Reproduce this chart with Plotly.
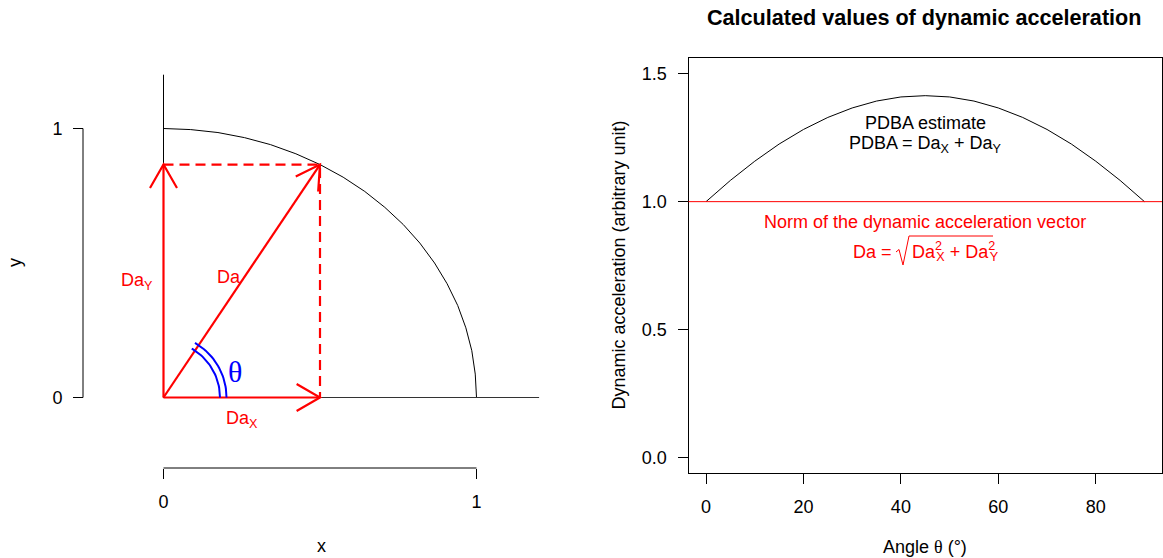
import math
import plotly.graph_objects as go

W, H = 1163, 558

# ---------------- data ----------------
THETA_DEG = 60          # angle of the dynamic acceleration vector
DA_X = 0.5              # x component
DA_Y = 0.866            # y component
AXIS_LEN = 1.2          # length of drawn x / y reference lines

# quarter circle of unit radius
circle_x = [1.000, 0.996, 0.985, 0.966, 0.940, 0.906, 0.866, 0.819, 0.766, 0.707,
            0.643, 0.574, 0.500, 0.423, 0.342, 0.259, 0.174, 0.087, 0.000]
circle_y = [0.000, 0.087, 0.174, 0.259, 0.342, 0.423, 0.500, 0.574, 0.643, 0.707,
            0.766, 0.819, 0.866, 0.906, 0.940, 0.966, 0.985, 0.996, 1.000]

# right panel
angle_deg = [0, 5, 10, 15, 20, 25, 30, 35, 40, 45, 50, 55, 60, 65, 70, 75, 80, 85, 90]
pdba = [1.000, 1.083, 1.158, 1.225, 1.282, 1.329, 1.366, 1.393, 1.409, 1.414,
        1.409, 1.393, 1.366, 1.329, 1.282, 1.225, 1.158, 1.083, 1.000]
norm_value = 1.0

left_ticks = [0, 1]
right_xticks = [0, 20, 40, 60, 80]
right_yticks = [0.0, 0.5, 1.0, 1.5]
right_yticklabels = ["0.0", "0.5", "1.0", "1.5"]

# ---------------- layout geometry (pixels) ----------------
# left panel
LX_RANGE = [-0.3, 1.3]
LY_RANGE = [-0.35, 1.35]
LX0_PX, LSX = 163.5, 313.0      # pixel of x=0, px per unit
LY0_PX, LSY = 397.5, 269.0      # pixel of y=0, px per unit
lx_dom = [(LX0_PX + LX_RANGE[0] * LSX) / W, (LX0_PX + LX_RANGE[1] * LSX) / W]
ly_dom = [1 - (LY0_PX - LY_RANGE[0] * LSY) / H, 1 - (LY0_PX - LY_RANGE[1] * LSY) / H]
LXAXIS_POS = 1 - 468 / H
LYAXIS_POS = 83 / W

# right panel
RX_RANGE = [-3.6, 93.6]
RY_RANGE = [-0.06, 1.56]
RX_PX = [688.5, 1162.0]
RY_PX = [473.0, 58.3]
rx_dom = [RX_PX[0] / W, RX_PX[1] / W]
ry_dom = [1 - RY_PX[0] / H, 1 - RY_PX[1] / H]


def rx(px):  # pixel -> right-panel data x
    return RX_RANGE[0] + (px - RX_PX[0]) * (RX_RANGE[1] - RX_RANGE[0]) / (RX_PX[1] - RX_PX[0])


def ry(py):  # pixel -> right-panel data y
    return RY_RANGE[0] + (RY_PX[0] - py) * (RY_RANGE[1] - RY_RANGE[0]) / (RY_PX[0] - RY_PX[1])


FONT = "Liberation Sans, Arial, sans-serif"
SERIF = "Liberation Serif, DejaVu Serif, serif"
RED = "#FF0000"
BLUE = "#0000FF"

fig = go.Figure()


def line(xs, ys, color="black", width=1, dash="solid", xa="x", ya="y"):
    fig.add_trace(go.Scatter(x=xs, y=ys, mode="lines", xaxis=xa, yaxis=ya,
                             line=dict(color=color, width=width, dash=dash),
                             hoverinfo="skip", showlegend=False))


def arrow_head(x0, y0, x1, y1, length=27, ang=30):
    dxp, dyp = (x1 - x0) * LSX, (y1 - y0) * LSY
    n = math.hypot(dxp, dyp)
    ux, uy = -dxp / n, -dyp / n
    a = math.radians(ang)
    pts_x, pts_y = [], []
    for s in (1, -1):
        rxx = ux * math.cos(s * a) - uy * math.sin(s * a)
        ryy = ux * math.sin(s * a) + uy * math.cos(s * a)
        pts_x.append(x1 + rxx * length / LSX)
        pts_y.append(y1 + ryy * length / LSY)
    return [pts_x[0], x1, pts_x[1]], [pts_y[0], y1, pts_y[1]]


# ---- left panel ----
line(circle_x, circle_y, "black", 1)
line([0, AXIS_LEN], [0, 0], "#333333", 1)
line([0, 0], [0, AXIS_LEN], "black", 1)

# dashed projections
line([0, DA_X, DA_X], [DA_Y, DA_Y, 0], RED, 2.2, dash="10px,6px")

# vectors with open heads
for (x1, y1) in [(DA_X, 0), (0, DA_Y), (DA_X, DA_Y)]:
    line([0, x1], [0, y1], RED, 2.2)
    hx, hy = arrow_head(0, 0, x1, y1)
    line(hx, hy, RED, 2.2)

# double arc marking the angle (circular in pixel space)
for r_px in (56.5, 63.0):
    ts = [math.radians(THETA_DEG * i / 30) for i in range(31)]
    line([r_px * math.cos(t) / LSX for t in ts], [r_px * math.sin(t) / LSY for t in ts], BLUE, 2)

# ---- right panel ----
line(angle_deg, pdba, "black", 1, xa="x2", ya="y2")

# radical sign + vinculum of the norm formula
RAD_L, RAD_R, RAD_TOP, RAD_BOT = 899.0, 993.0, 236.0, 265.0
rad_x = [rx(RAD_L - 3), rx(RAD_L), rx(RAD_L + 4), rx(RAD_L + 10), rx(RAD_R)]
rad_y = [ry(252), ry(249.5), ry(RAD_BOT), ry(RAD_TOP), ry(RAD_TOP)]
line(rad_x, rad_y, RED, 1, xa="x2", ya="y2")

shapes = [
    dict(type="line", xref="x", yref="paper", x0=left_ticks[0], x1=left_ticks[-1],
         y0=LXAXIS_POS, y1=LXAXIS_POS, line=dict(color="black", width=1)),
    dict(type="line", xref="paper", yref="y", x0=LYAXIS_POS, x1=LYAXIS_POS,
         y0=left_ticks[0], y1=left_ticks[-1], line=dict(color="black", width=1)),
    dict(type="line", xref="x2 domain", yref="y2", x0=0, x1=1, y0=norm_value, y1=norm_value,
         line=dict(color=RED, width=1)),
]

ann = []


def text(x, y, s, xref="paper", yref="paper", size=18, color="black", angle=0,
         family=FONT, px=True, xanchor="center"):
    if px and xref == "paper":
        x = x / W
    if px and yref == "paper":
        y = 1 - y / H
    ann.append(dict(x=x, y=y, xref=xref, yref=yref, text=s, showarrow=False,
                    font=dict(size=size, color=color, family=family), textangle=angle,
                    xanchor=xanchor, yanchor="middle"))


# left labels
text(-0.086, 0.43, "Da<sub>Y</sub>", "x", "y", color=RED)
text(0.21, 0.447, "Da", "x", "y", color=RED)
text(0.25, -0.08, "Da<sub>X</sub>", "x", "y", color=RED)
text(0.228, 0.098, "θ", "x", "y", size=30, color=BLUE, family=SERIF)
text(15, 263, "y", angle=-90)
text(321, 546, "x")

# right labels
text(924, 17, "<b>Calculated values of dynamic acceleration</b>", size=21.6)
text(618, 265.5, "Dynamic acceleration (arbitrary unit)", angle=-90)
text(925, 547, "Angle <span style='font-family:Liberation Serif'>θ</span> (°)")
text(45, 1.309, "PDBA estimate", "x2", "y2")
text(45, 1.222, "PDBA = Da<sub>X</sub> + Da<sub>Y</sub>", "x2", "y2")
text(45, 0.922, "Norm of the dynamic acceleration vector", "x2", "y2", color=RED)
text(rx(RAD_L - 5), ry(252), "Da =", "x2", "y2", color=RED, xanchor="right")
text(rx(RAD_L + 11), ry(252),
     "Da<sup><span style='letter-spacing:-0.45em'>2</span></sup><sub>X</sub> + "
     "Da<sup><span style='letter-spacing:-0.45em'>2</span></sup><sub>Y</sub>",
     "x2", "y2", color=RED, xanchor="left")

axis_common = dict(showgrid=False, zeroline=False, ticks="outside", ticklen=10,
                   tickcolor="black", tickwidth=1, tickfont=dict(size=18, color="black", family=FONT))

fig.update_layout(
    width=W, height=H, margin=dict(l=0, r=0, t=0, b=0),
    paper_bgcolor="white", plot_bgcolor="white",
    font=dict(family=FONT, color="black", size=18),
    showlegend=False,
    xaxis=dict(domain=lx_dom, range=LX_RANGE, anchor="free", position=LXAXIS_POS,
               showline=False, tickvals=left_ticks, ticklabelstandoff=7, **axis_common),
    yaxis=dict(domain=ly_dom, range=LY_RANGE, anchor="free", position=LYAXIS_POS,
               showline=False, tickvals=left_ticks, ticklabelstandoff=7, **axis_common),
    xaxis2=dict(domain=rx_dom, range=RX_RANGE, anchor="y2", showline=True, mirror=True,
                linecolor="black", linewidth=1, tickvals=right_xticks, ticklabelstandoff=7,
                **axis_common),
    yaxis2=dict(domain=ry_dom, range=RY_RANGE, anchor="x2", showline=True, mirror=True,
                linecolor="black", linewidth=1, tickvals=right_yticks, ticktext=right_yticklabels,
                ticklabelstandoff=7, **axis_common),
    shapes=shapes,
    annotations=ann,
)

fig.write_html("out.html", config={"displayModeBar": False},
               post_script="document.body.style.margin='0px';document.body.style.overflow='hidden';")
